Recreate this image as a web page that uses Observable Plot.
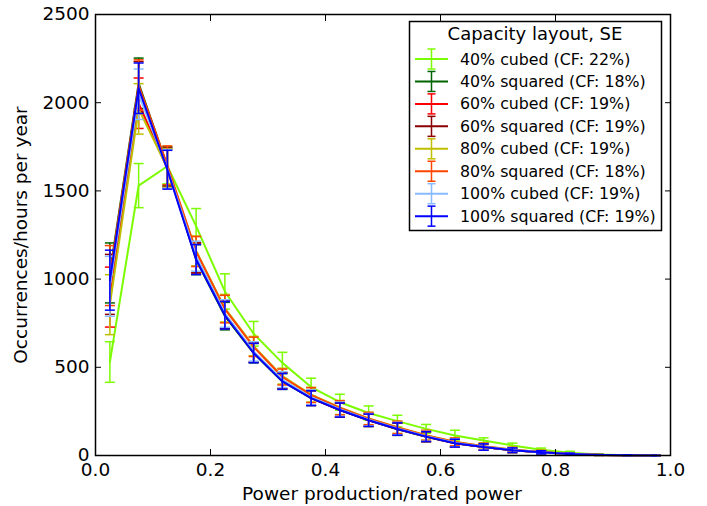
<!DOCTYPE html>
<html><head><meta charset="utf-8">
<script src="https://cdn.jsdelivr.net/npm/d3@7"></script>
<script src="https://cdn.jsdelivr.net/npm/@observablehq/plot@0.6"></script>
<style>
body{margin:0;background:#fff}
#chart svg{font-family:"DejaVu Sans",sans-serif}
</style>
</head><body><div id="chart"></div>
<script>
const binCenters = [0.025,0.075,0.125,0.175,0.225,0.275,0.325,0.375,0.425,0.475,0.525,0.575,0.625,0.675,0.725,0.775,0.825,0.875,0.925,0.975];
const seriesNames = ["40% cubed (CF: 22%)","40% squared (CF: 18%)","60% cubed (CF: 19%)","60% squared (CF: 19%)","80% cubed (CF: 19%)","80% squared (CF: 18%)","100% cubed (CF: 19%)","100% squared (CF: 19%)"];
const seriesColors = ["#7cfc00","#006400","#ff0000","#8b0000","#bfbf00","#ff4500","#88bbff","#0000ff"];
const v40cubed    = [530,1530,1640,1300,930,690,525,388,302,241,195,151,113,85,57,32,16,5,1,0];
const v40squared  = [1035,2110,1640,1110,790,580,420,325,257,199,149,106,70,48,30,18,8,3,1,0];
const v60cubed    = [898,1997,1625,1120,800,585,425,326,258,200,150,107,70,48,30,18,8,3,1,0];
const v60squared  = [970,2090,1635,1120,800,585,425,327,259,201,151,108,71,48,30,18,8,3,1,0];
const v80cubed    = [855,1965,1630,1160,835,620,450,345,272,210,160,115,78,53,34,20,9,3,1,0];
const v80squared  = [1020,2100,1645,1156,830,616,445,342,270,209,159,114,77,52,33,20,9,3,1,0];
const v100cubed   = [959,2048,1625,1130,805,590,430,330,262,203,153,109,72,49,31,18,8,3,1,0];
const v100squared = [994,2082,1620,1111,795,581,420,325,258,200,150,107,70,48,30,18,8,3,1,0];
const err40cubed  = [115,125,100,100,100,70,60,50,45,40,33,25,30,15,13,10,8,4,1,0];
const errOthers   = [170,143,110,85,78,55,45,42,40,35,35,28,22,18,13,9,5,2,1,0];
const xTicks = [0,0.2,0.4,0.6,0.8,1.0];
const yTicks = [0,500,1000,1500,2000,2500];

const seriesValues = [v40cubed,v40squared,v60cubed,v60squared,v80cubed,v80squared,v100cubed,v100squared];
const seriesErrors = [err40cubed,errOthers,errOthers,errOthers,errOthers,errOthers,errOthers,errOthers];

const rows = [];
seriesNames.forEach((name,i)=>{
  binCenters.forEach((x,j)=>{
    rows.push({series:name, idx:i, x, y:seriesValues[i][j], lo:seriesValues[i][j]-seriesErrors[i][j], hi:seriesValues[i][j]+seriesErrors[i][j]});
  });
});

const capSymbol = {draw(ctx){ ctx.moveTo(-5,0); ctx.lineTo(5,0); }};

const marks = [];
seriesNames.forEach((name,i)=>{
  const d = rows.filter(r=>r.idx===i);
  const c = seriesColors[i];
  marks.push(Plot.ruleX(d,{x:"x",y1:"lo",y2:"hi",stroke:c,strokeWidth:1.5}));
  marks.push(Plot.dot(d,{x:"x",y:"lo",symbol:capSymbol,stroke:c,strokeWidth:1.5,fill:"none",r:4}));
  marks.push(Plot.dot(d,{x:"x",y:"hi",symbol:capSymbol,stroke:c,strokeWidth:1.5,fill:"none",r:4}));
  marks.push(Plot.line(d,{x:"x",y:"y",stroke:c,strokeWidth:2}));
});

const chart = Plot.plot({
  width:707, height:506,
  marginLeft:95, marginRight:37, marginTop:14, marginBottom:51,
  style:{fontSize:"18.5px",fontFamily:"DejaVu Sans",color:"#000",background:"#fff"},
  x:{domain:[0,1]},
  y:{domain:[0,2500]},
  marks:[
    ...marks,
    Plot.axisX(xTicks,{tickSize:-6,tickFormat:()=>"",label:null,strokeWidth:1}),
    Plot.axisX(xTicks,{tickSize:0,tickPadding:7,tickFormat:d3.format(".1f"),label:null,fill:"#000"}),
    Plot.axisX(xTicks,{anchor:"top",tickSize:-6,tickFormat:()=>"",label:null}),
    Plot.axisY(yTicks,{tickSize:-6,tickFormat:()=>"",label:null}),
    Plot.axisY(yTicks,{tickSize:0,tickPadding:6,tickFormat:d=>String(d),label:null,fill:"#000"}),
    Plot.axisY(yTicks,{anchor:"right",tickSize:-6,tickFormat:()=>"",label:null}),
    Plot.frame({stroke:"#000",strokeWidth:1.5})
  ]
});
document.getElementById("chart").appendChild(chart);

const svg = d3.select(chart);
svg.append("text").attr("x",382).attr("y",500).attr("text-anchor","middle")
  .attr("font-size","18.5px").attr("fill","#000").text("Power production/rated power");
svg.append("text").attr("transform","translate(27,235) rotate(-90)").attr("text-anchor","middle")
  .attr("font-size","18.5px").attr("fill","#000").text("Occurrences/hours per year");

const lg = svg.append("g");
lg.append("rect").attr("x",409.5).attr("y",21.5).attr("width",252).attr("height",209)
  .attr("fill","#fff").attr("stroke","#000").attr("stroke-width",1.5);
lg.append("text").attr("x",535).attr("y",40).attr("text-anchor","middle")
  .attr("font-size","18px").attr("fill","#000").text("Capacity layout, SE");
seriesNames.forEach((name,i)=>{
  const cy = 59 + i*22.45;
  const c = seriesColors[i];
  lg.append("line").attr("x1",415).attr("x2",448).attr("y1",cy).attr("y2",cy).attr("stroke",c).attr("stroke-width",2);
  lg.append("line").attr("x1",431.5).attr("x2",431.5).attr("y1",cy-10).attr("y2",cy+10).attr("stroke",c).attr("stroke-width",1.5);
  lg.append("line").attr("x1",427.5).attr("x2",435.5).attr("y1",cy-10).attr("y2",cy-10).attr("stroke",c).attr("stroke-width",1.5);
  lg.append("line").attr("x1",427.5).attr("x2",435.5).attr("y1",cy+10).attr("y2",cy+10).attr("stroke",c).attr("stroke-width",1.5);
  lg.append("text").attr("x",460).attr("y",cy).attr("dy","0.35em").attr("text-anchor","start")
    .attr("font-size","15.8px").attr("fill","#000").text(name);
});
</script>
</body></html>
